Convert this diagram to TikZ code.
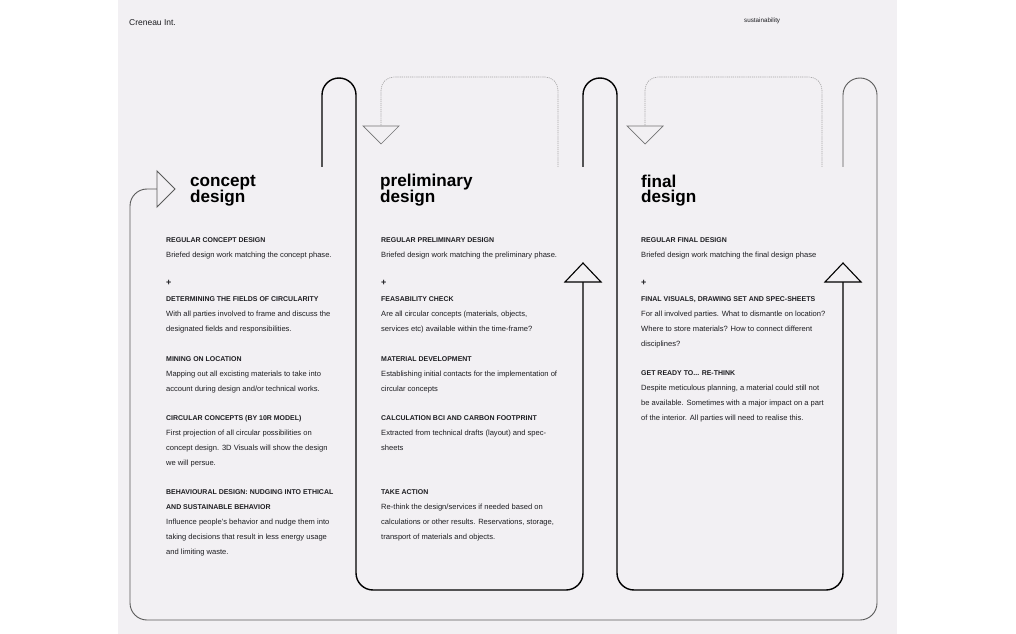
\documentclass[tikz,border=0pt]{standalone}
\usepackage{fontspec}
\setmainfont{Liberation Sans}
\definecolor{bg}{HTML}{F2F0F3}
\definecolor{ink}{HTML}{1E1E22}
\begin{document}
\begin{tikzpicture}[x=1bp,y=-1bp,
  snake/.style={draw=black,line width=1.4bp,rounded corners=17bp},
  frame/.style={draw=black!65,line width=0.9bp,rounded corners=17bp},
  dashln/.style={draw=black!35,line width=0.6bp,dash pattern=on 1.2bp off 0.9bp,rounded corners=13bp},
  triup/.style={draw=black,fill=bg,line width=1.1bp,line join=miter},
  tridn/.style={draw=black!55,fill=bg,line width=0.7bp,line join=miter},
  trirt/.style={draw=black!65,fill=bg,line width=0.9bp,line join=miter},
  hd/.style={anchor=base west,inner sep=0,font=\fontsize{7}{8}\selectfont\bfseries,text=ink},
  bd/.style={anchor=base west,inner sep=0,font=\fontsize{7.6}{9}\selectfont,text=ink},
  pl/.style={anchor=base west,inner sep=0,font=\fontsize{9}{9}\selectfont\bfseries,text=ink},
  ttl/.style={anchor=base west,inner sep=0,align=left,font=\fontsize{17.2}{15.5}\selectfont\bfseries,text=black},
]
\useasboundingbox (0,0) rectangle (1016,634);
\fill[white] (0,0) rectangle (1016,634);
\fill[bg] (118,0) rectangle (897,634);

% header
\node[anchor=base west,inner sep=0,font=\fontsize{8.5}{9}\selectfont,text=ink] (logo) at (129,25.5) {Creneau Int.};
\node[anchor=base west,inner sep=0,font=\fontsize{6.3}{7}\selectfont,text=ink] (sust) at (744,23) {sustainability};

% named points
\coordinate (crt) at (157,189);
\coordinate (fend) at (843,167);
\coordinate (pst) at (322,167);
\coordinate (put) at (583,282);
\coordinate (fst) at (583,167);
\coordinate (fut) at (843,282);
\coordinate (pdt) at (381,126);
\coordinate (pde) at (558,167);
\coordinate (fdt) at (645,126);
\coordinate (fde) at (822,167);

% dashed feedback connectors
\draw[dashln] (pde) -- (558,77) -- (381,77) -- (pdt);
\draw[dashln] (fde) -- (822,77) -- (645,77) -- (fdt);

% outer frame
\draw[frame] (crt) -- (130,189) -- (130,620) -- (877,620) -- (877,78) -- (843,78) -- (fend);
% snakes
\draw[snake] (pst) -- (322,78) -- (356,78) -- (356,590) -- (583,590) -- (put);
\draw[snake] (fst) -- (583,78) -- (617,78) -- (617,590) -- (843,590) -- (fut);

% triangles
\draw[trirt] (157,171) -- (175,189) -- (157,207) -- cycle;
\draw[tridn] (363,126) -- (399,126) -- (381,144) -- cycle;
\draw[tridn] (627,126) -- (663,126) -- (645,144) -- cycle;
\draw[triup] (565,282) -- (601,282) -- (583,263) -- cycle;
\draw[triup] (825,282) -- (861,282) -- (843,263) -- cycle;

% titles (base anchor = baseline of last line)
\node[ttl] (t1) at (190,203) {concept\\design};
\node[ttl] (t2) at (380,203) {preliminary\\design};
\node[ttl] (t3) at (641,202.5) {final\\design};

% concept column
\node[hd] (c1) at (166,242.5) {REGULAR CONCEPT DESIGN};
\node[bd] (c2) at (166,257.5) {Briefed design work matching the concept phase.};
\node[pl] (cp) at (166,285.5) {+};
\node[hd] (c3) at (166,301.5) {DETERMINING THE FIELDS OF CIRCULARITY};
\node[bd] (c4) at (166,316.5) {With all parties involved to frame and discuss the};
\node[bd] (c5) at (166,331.5) {designated fields and responsibilities.};
\node[hd] (c6) at (166,361) {MINING ON LOCATION};
\node[bd] (c7) at (166,376) {Mapping out all excisting materials to take into};
\node[bd] (c8) at (166,391) {account during design and/or technical works.};
\node[hd] (c9) at (166,420.5) {CIRCULAR CONCEPTS (BY 10R MODEL)};
\node[bd] (c10) at (166,435.5) {First projection of all circular possibilities on};
\node[bd] (c11) at (166,450.5) {concept design. 3D Visuals will show the design};
\node[bd] (c12) at (166,465.5) {we will persue.};
\node[hd] (c13) at (166,494.5) {BEHAVIOURAL DESIGN: NUDGING INTO ETHICAL};
\node[hd] (c14) at (166,509.5) {AND SUSTAINABLE BEHAVIOR};
\node[bd] (c15) at (166,524.5) {Influence people's behavior and nudge them into};
\node[bd] (c16) at (166,539.5) {taking decisions that result in less energy usage};
\node[bd] (c17) at (166,554.5) {and limiting waste.};

% preliminary column
\node[hd] (p1) at (381,242.5) {REGULAR PRELIMINARY DESIGN};
\node[bd] (p2) at (381,257.5) {Briefed design work matching the preliminary phase.};
\node[pl] (pp) at (381,285.5) {+};
\node[hd] (p3) at (381,301.8) {FEASABILITY CHECK};
\node[bd] (p4) at (381,316.8) {Are all circular concepts (materials, objects,};
\node[bd] (p5) at (381,331.8) {services etc) available within the time-frame?};
\node[hd] (p6) at (381,361.2) {MATERIAL DEVELOPMENT};
\node[bd] (p7) at (381,376) {Establishing initial contacts for the implementation of};
\node[bd] (p8) at (381,391) {circular concepts};
\node[hd] (p9) at (381,420.2) {CALCULATION BCI AND CARBON FOOTPRINT};
\node[bd] (p10) at (381,435.8) {Extracted from technical drafts (layout) and spec-};
\node[bd] (p11) at (381,450.5) {sheets};
\node[hd] (p12) at (381,494.5) {TAKE ACTION};
\node[bd] (p13) at (381,509.5) {Re-think the design/services if needed based on};
\node[bd] (p14) at (381,524.5) {calculations or other results. Reservations, storage,};
\node[bd] (p15) at (381,539.5) {transport of materials and objects.};

% final column
\node[hd] (f1) at (641,242.5) {REGULAR FINAL DESIGN};
\node[bd] (f2) at (641,257.5) {Briefed design work matching the final design phase};
\node[pl] (fp) at (641,285.5) {+};
\node[hd] (f3) at (641,301.8) {FINAL VISUALS, DRAWING SET AND SPEC-SHEETS};
\node[bd] (f4) at (641,316.8) {For all involved parties. What to dismantle on location?};
\node[bd] (f5) at (641,331.8) {Where to store materials? How to connect different};
\node[bd] (f6) at (641,346.5) {disciplines?};
\node[hd] (f7) at (641,375.8) {GET READY TO... RE-THINK};
\node[bd] (f8) at (641,390.8) {Despite meticulous planning, a material could still not};
\node[bd] (f9) at (641,405.8) {be available. Sometimes with a major impact on a part};
\node[bd] (f10) at (641,420.8) {of the interior. All parties will need to realise this.};
\end{tikzpicture}
\end{document}
